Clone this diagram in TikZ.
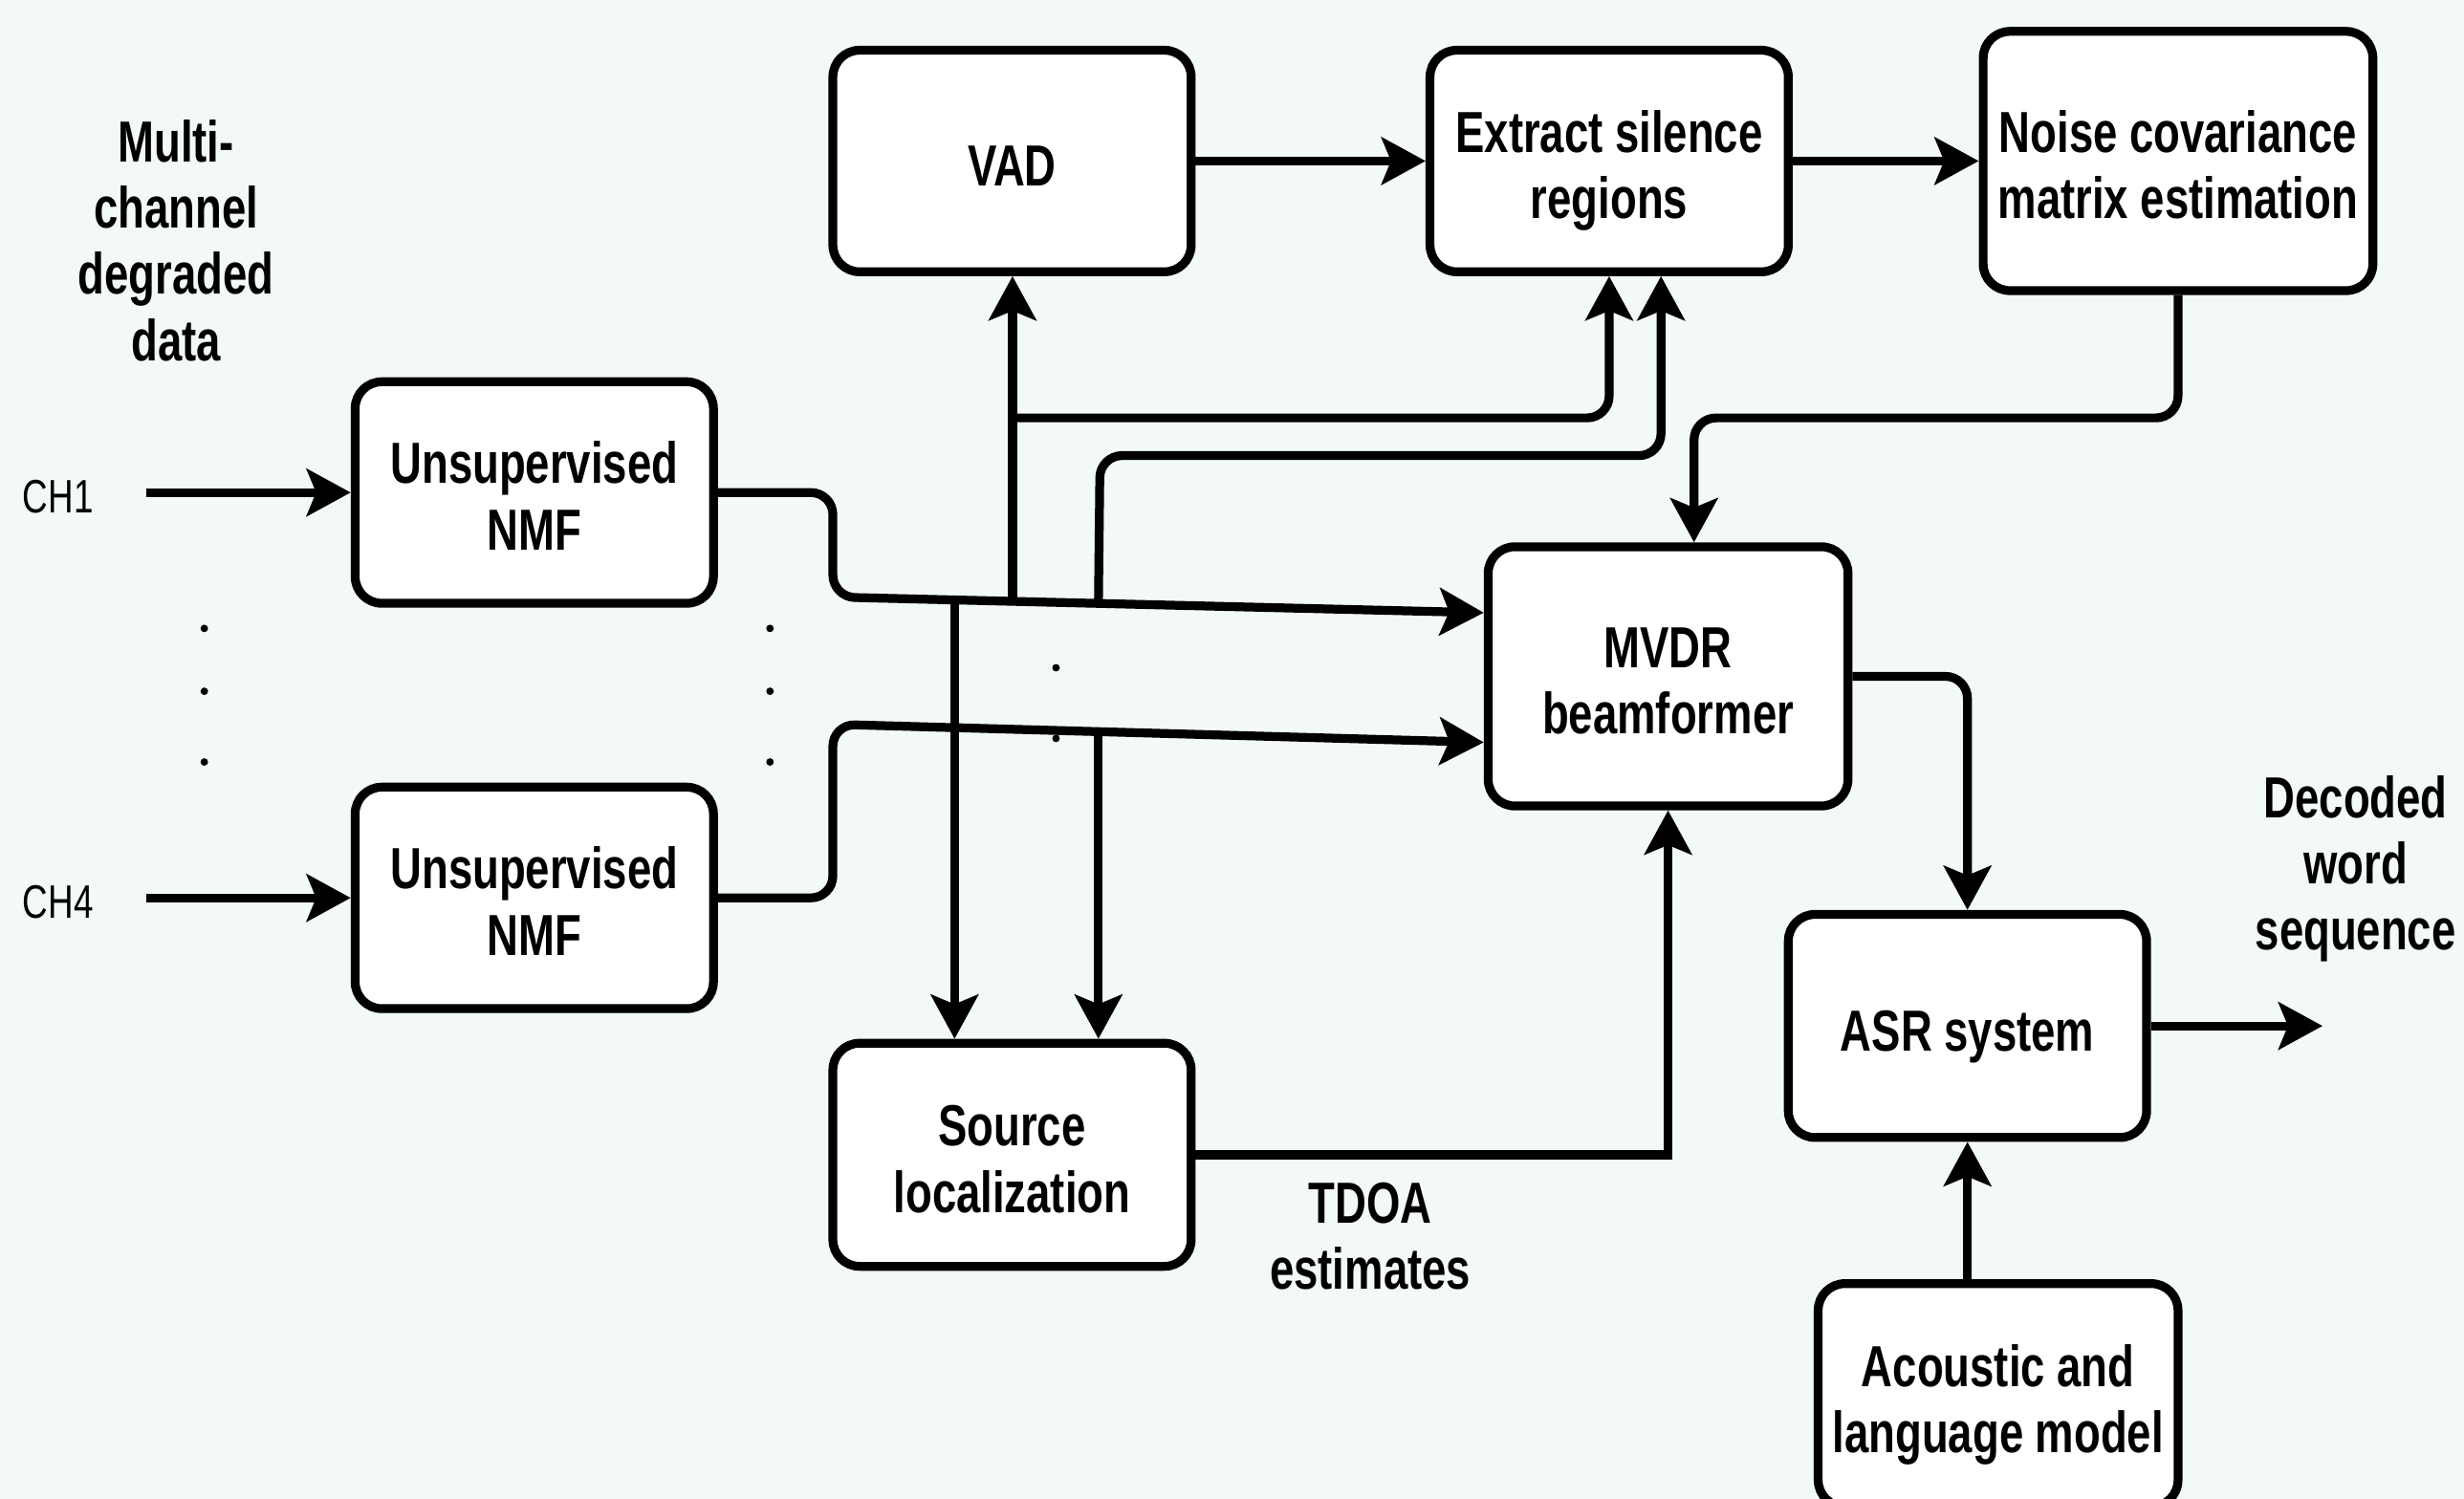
\documentclass[tikz,border=0pt]{standalone}
\usepackage{fontspec}
\setmainfont{Liberation Sans}[FakeStretch=0.75]
\usetikzlibrary{arrows.meta,calc}
\definecolor{bgmint}{RGB}{243,248,248}

\begin{document}
\begin{tikzpicture}[
    blk/.style={draw, line width=1.6pt, fill=white, rounded corners=0.17cm,
        minimum width=2.28cm, minimum height=1.41cm, align=center, inner sep=1pt,
        font=\bfseries\fontsize{10.5}{12}\selectfont, text height=9pt, text depth=0pt},
    twoline/.style={text height=20.8pt},
    lbl/.style={align=center, font=\bfseries\fontsize{10.5}{12}\selectfont},
    chlbl/.style={font=\fontsize{8.5}{10}\selectfont},
    conn/.style={line width=1.6pt, rounded corners=0.14cm},
    >={Stealth[length=2.8mm,width=3mm,inset=0.6mm]}]
    \fill[bgmint] (0,0) rectangle (15.68,9.54);
    \useasboundingbox (0,0) rectangle (15.68,9.54);

    \node[blk] (vad) at (6.44,8.515) {VAD};
    \node[blk, twoline] (extract) at (10.24,8.515) {Extract silence\\regions};
    \node[blk, twoline, minimum width=2.48cm, minimum height=1.65cm] (noise) at (13.86,8.515) {Noise covariance\\matrix estimation};
    \node[blk, twoline] (nmf1) at (3.40,6.405) {Unsupervised\\NMF};
    \node[blk, twoline] (nmf4) at (3.40,3.825) {Unsupervised\\NMF};
    \node[blk, twoline, minimum width=2.29cm, minimum height=1.65cm] (mvdr) at (10.615,5.235) {MVDR\\beamformer};
    \node[blk, twoline, minimum height=1.42cm] (source) at (6.44,2.19) {Source\\localization};
    \node[blk, minimum height=1.42cm] (asr) at (12.52,3.01) {ASR system};
    \node[blk, twoline, minimum width=2.29cm, minimum height=1.42cm] (am) at (12.715,0.66) {Acoustic and\\language model};

    \node[lbl] (multi) at (1.12,8.01) {Multi-\\channel\\degraded\\data};
    \node[chlbl] (ch1) at (0.37,6.38) {CH1};
    \node[chlbl] (ch4) at (0.37,3.80) {CH4};
    \node[lbl] (tdoa) at (8.72,1.67) {TDOA\\estimates};
    \node[lbl] (decoded) at (14.99,4.01) {Decoded\\word\\sequence};

    \coordinate (in1) at (0.93,6.405);
    \coordinate (in4) at (0.93,3.825);
    \coordinate (out) at (14.78,3.01);
    \coordinate (b1) at (5.30,5.74);
    \coordinate (b4) at (5.30,4.93);
    \coordinate (e1) at ($(mvdr.west)+(0,0.405)$);
    \coordinate (e4) at ($(mvdr.west)+(0,-0.42)$);
    \path (b1) -- (e1) coordinate[pos=0.187] (ja) coordinate[pos=0.276] (jb) coordinate[pos=0.408] (jc);
    \path (b4) -- (e4) coordinate[pos=0.408] (jd);
    \coordinate (kb) at (6.45,6.88);
    \coordinate (kc) at (7.00,6.64);

    \draw[conn,->] (in1) -- (nmf1);
    \draw[conn,->] (in4) -- (nmf4);
    \draw[conn,->] (nmf1.east) -| (b1) -- (e1);
    \draw[conn,->] (nmf4.east) -| (b4) -- (e4);
    \draw[conn,->] (jb) -- (jb |- vad.south);
    \draw[conn,->] (ja) -- (ja |- source.north);
    \draw[conn,->] (jd) -- (jd |- source.north);
    \draw[conn,->] (kb) -| (extract.south);
    \draw[conn,->] (jc) -- (kc) -| ($(extract.south)+(0.33,0)$);
    \draw[conn,->] (noise.south) -- (noise.south |- kb) -| ($(mvdr.north)+(0.165,0)$);
    \draw[conn,->] (vad) -- (extract);
    \draw[conn,->] (extract) -- (noise);
    \draw[conn,->] (mvdr.east) -| (asr.north);
    \draw[conn,->,sharp corners] (source.east) -| (mvdr.south);
    \draw[conn,->] (asr.east) -- (out);
    \draw[conn,->] (asr.south |- am.north) -- (asr.south);

    \foreach \x in {1.30,4.90}
        \foreach \y in {5.54,5.14,4.69}
            \fill (\x,\y) circle (0.024);
    \fill (6.72,5.29) circle (0.024);
    \fill (6.72,4.84) circle (0.024);
\end{tikzpicture}
\end{document}
